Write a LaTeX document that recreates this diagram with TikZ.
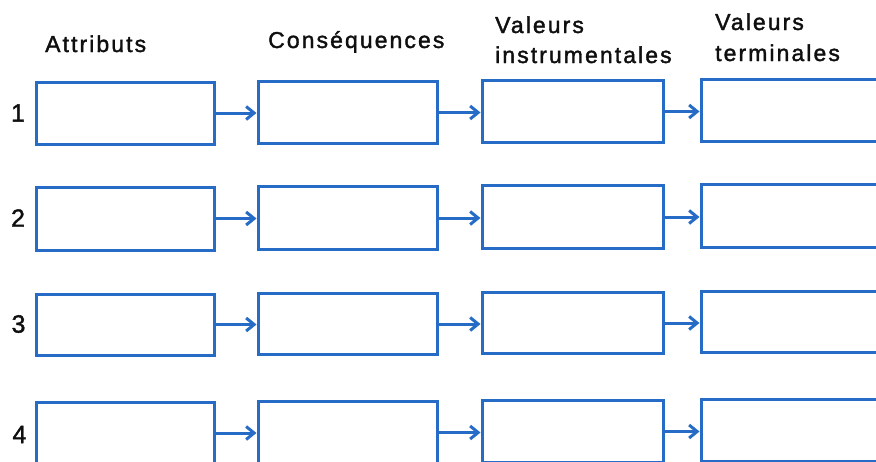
\documentclass[tikz,border=0pt]{standalone}
\usepackage{fontspec}
\setmainfont{Liberation Sans}[LetterSpace=9, FakeBold=1.6]
\usetikzlibrary{arrows.meta}
\definecolor{boxblue}{RGB}{38,108,198}
\definecolor{ink}{RGB}{15,15,15}
\tikzset{
  cell/.style={draw=boxblue, line width=3pt, rectangle, inner sep=0pt, outer sep=0pt, fill=white},
  link/.style={draw=boxblue, line width=3pt, -{Straight Barb[length=8pt,width=13pt,line width=3pt]}, shorten >=1.5pt},
  head/.style={anchor=base west, inner sep=0pt, text=ink, font=\fontsize{23}{28}\selectfont},
  num/.style={anchor=center, inner sep=0pt, text=ink, font=\fontsize{25}{30}\selectfont}
}
\begin{document}
\begin{tikzpicture}[x=1pt,y=-1pt]
\useasboundingbox (0,0) rectangle (876,461);
\clip (0,0) rectangle (876,461);
\fill[white] (0,0) rectangle (876,461);
% headers
\node[head] (h1) at (45,52) {Attributs};
\node[head] (h2) at (268,48) {Conséquences};
\node[head] (h3a) at (495,33) {Valeurs};
\node[head] (h3b) at (495,63) {instrumentales};
\node[head] (h4a) at (715,30) {Valeurs};
\node[head] (h4b) at (715,61) {terminales};
% row numbers
\node[num] (n1) at (18,113) {1};
\node[num] (n2) at (18,218) {2};
\node[num] (n3) at (18.5,324) {3};
\node[num] (n4) at (19.5,434.5) {4};
% boxes
\foreach \r/\cy/\h in {1/113/62, 2/218.5/63, 3/324.5/61, 4/433/62}{
  \node[cell, minimum width=178pt, minimum height=\h pt] (b\r1) at (125,\cy) {};
  \node[cell, minimum width=179pt, minimum height=\h pt] (b\r2) at (347.5,\cy-0.5) {};
  \node[cell, minimum width=181pt, minimum height=\h pt] (b\r3) at (572.5,\cy-1.5) {};
  \node[cell, minimum width=190pt, minimum height=\h pt] (b\r4) at (796,\cy-2.5) {};
}
% arrows
\foreach \r in {1,2,3,4}{
  \draw[link] (b\r1.east) -- (b\r1.east -| b\r2.west);
  \draw[link] (b\r2.east) -- (b\r2.east -| b\r3.west);
  \draw[link] (b\r3.east) -- (b\r3.east -| b\r4.west);
}
\end{tikzpicture}
\end{document}
